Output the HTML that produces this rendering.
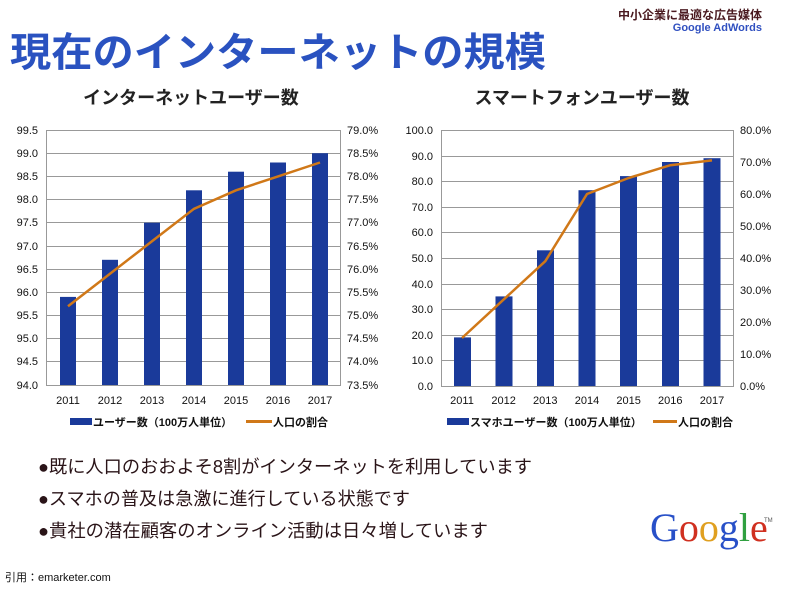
<!DOCTYPE html>
<html><head><meta charset="utf-8"><style>
body{margin:0;background:#fff;width:800px;height:590px;overflow:hidden}
svg{display:block}
</style></head><body>
<svg width="800" height="590" xmlns="http://www.w3.org/2000/svg" font-family="'Liberation Sans','Noto Sans CJK JP',sans-serif">
<text x="762" y="19" text-anchor="end" font-size="12" font-weight="bold" fill="#4a1a20">中小企業に最適な広告媒体</text>
<text x="762" y="31" text-anchor="end" font-size="11" font-weight="bold" fill="#3050c0">Google AdWords</text>
<text x="10" y="66" font-size="40" font-weight="bold" fill="#2a52c0" textLength="536" lengthAdjust="spacingAndGlyphs">現在のインターネットの規模</text>
<text x="191" y="104" text-anchor="middle" font-size="18" font-weight="bold" fill="#222">インターネットユーザー数</text>
<text x="582" y="104" text-anchor="middle" font-size="18" font-weight="bold" fill="#222">スマートフォンユーザー数</text>

<!-- Left chart -->
<g stroke="#999" stroke-width="1">
<line x1="47" y1="130.5" x2="341" y2="130.5"/><line x1="47" y1="153.5" x2="341" y2="153.5"/><line x1="47" y1="176.5" x2="341" y2="176.5"/><line x1="47" y1="199.5" x2="341" y2="199.5"/><line x1="47" y1="222.5" x2="341" y2="222.5"/><line x1="47" y1="246.5" x2="341" y2="246.5"/><line x1="47" y1="269.5" x2="341" y2="269.5"/><line x1="47" y1="292.5" x2="341" y2="292.5"/><line x1="47" y1="315.5" x2="341" y2="315.5"/><line x1="47" y1="338.5" x2="341" y2="338.5"/><line x1="47" y1="361.5" x2="341" y2="361.5"/>
<line x1="46.5" y1="130" x2="46.5" y2="385"/><line x1="340.5" y1="130" x2="340.5" y2="385"/><line x1="46" y1="385.5" x2="341" y2="385.5"/>
</g>
<g fill="#1a3a9a">
<rect x="60" y="296.9" width="16" height="88.1"/><rect x="102" y="259.8" width="16" height="125.2"/><rect x="144" y="222.7" width="16" height="162.3"/><rect x="186" y="190.3" width="16" height="194.7"/><rect x="228" y="171.7" width="16" height="213.3"/><rect x="270" y="162.5" width="16" height="222.5"/><rect x="312" y="153.2" width="16" height="231.8"/>
</g>
<polyline points="68,306.2 110,273.7 152,241.3 194,208.8 236,190.3 278,176.4 320,162.5" fill="none" stroke="#d07818" stroke-width="2.5"/>
<g font-size="11" fill="#111" text-anchor="end">
<text x="38" y="134">99.5</text><text x="38" y="157">99.0</text><text x="38" y="180">98.5</text><text x="38" y="203">98.0</text><text x="38" y="226">97.5</text><text x="38" y="250">97.0</text><text x="38" y="273">96.5</text><text x="38" y="296">96.0</text><text x="38" y="319">95.5</text><text x="38" y="342">95.0</text><text x="38" y="365">94.5</text><text x="38" y="389">94.0</text>
</g>
<g font-size="11" fill="#111">
<text x="347" y="134">79.0%</text><text x="347" y="157">78.5%</text><text x="347" y="180">78.0%</text><text x="347" y="203">77.5%</text><text x="347" y="226">77.0%</text><text x="347" y="250">76.5%</text><text x="347" y="273">76.0%</text><text x="347" y="296">75.5%</text><text x="347" y="319">75.0%</text><text x="347" y="342">74.5%</text><text x="347" y="365">74.0%</text><text x="347" y="389">73.5%</text>
</g>
<g font-size="11" fill="#111" text-anchor="middle">
<text x="68" y="404">2011</text><text x="110" y="404">2012</text><text x="152" y="404">2013</text><text x="194" y="404">2014</text><text x="236" y="404">2015</text><text x="278" y="404">2016</text><text x="320" y="404">2017</text>
</g>
<rect x="70" y="418" width="22" height="7" fill="#1a3a9a"/>
<text x="93" y="426" font-size="11" font-weight="bold" fill="#111">ユーザー数（100万人単位）</text>
<line x1="246" y1="421.5" x2="272" y2="421.5" stroke="#d07818" stroke-width="3"/>
<text x="273" y="426" font-size="11" font-weight="bold" fill="#111">人口の割合</text>

<!-- Right chart -->
<g stroke="#999" stroke-width="1">
<line x1="441" y1="130.5" x2="733" y2="130.5"/><line x1="441" y1="156.5" x2="733" y2="156.5"/><line x1="441" y1="181.5" x2="733" y2="181.5"/><line x1="441" y1="207.5" x2="733" y2="207.5"/><line x1="441" y1="232.5" x2="733" y2="232.5"/><line x1="441" y1="258.5" x2="733" y2="258.5"/><line x1="441" y1="284.5" x2="733" y2="284.5"/><line x1="441" y1="309.5" x2="733" y2="309.5"/><line x1="441" y1="335.5" x2="733" y2="335.5"/><line x1="441" y1="360.5" x2="733" y2="360.5"/>
<line x1="441.5" y1="130" x2="441.5" y2="386"/><line x1="733.5" y1="130" x2="733.5" y2="386"/><line x1="441" y1="386.5" x2="734" y2="386.5"/>
</g>
<g fill="#1a3a9a">
<rect x="454" y="337.4" width="17" height="48.6"/><rect x="495.5" y="296.4" width="17" height="89.6"/><rect x="537" y="250.3" width="17" height="135.7"/><rect x="578.5" y="190.2" width="17" height="195.8"/><rect x="620" y="176.1" width="17" height="209.9"/><rect x="662" y="162" width="17" height="224"/><rect x="703.5" y="158.2" width="17" height="227.8"/>
</g>
<polyline points="462,338 503.6,299.6 545.3,261.2 587,194 628.6,178 670.3,165.2 712,160.4" fill="none" stroke="#d07818" stroke-width="2.5"/>
<g font-size="11" fill="#111" text-anchor="end">
<text x="433" y="134">100.0</text><text x="433" y="160">90.0</text><text x="433" y="185">80.0</text><text x="433" y="211">70.0</text><text x="433" y="236">60.0</text><text x="433" y="262">50.0</text><text x="433" y="288">40.0</text><text x="433" y="313">30.0</text><text x="433" y="339">20.0</text><text x="433" y="364">10.0</text><text x="433" y="390">0.0</text>
</g>
<g font-size="11" fill="#111">
<text x="740" y="134">80.0%</text><text x="740" y="166">70.0%</text><text x="740" y="198">60.0%</text><text x="740" y="230">50.0%</text><text x="740" y="262">40.0%</text><text x="740" y="294">30.0%</text><text x="740" y="326">20.0%</text><text x="740" y="358">10.0%</text><text x="740" y="390">0.0%</text>
</g>
<g font-size="11" fill="#111" text-anchor="middle">
<text x="462" y="404">2011</text><text x="503.6" y="404">2012</text><text x="545.3" y="404">2013</text><text x="587" y="404">2014</text><text x="628.6" y="404">2015</text><text x="670.3" y="404">2016</text><text x="712" y="404">2017</text>
</g>
<rect x="447" y="418" width="22" height="7" fill="#1a3a9a"/>
<text x="470" y="426" font-size="11" font-weight="bold" fill="#111">スマホユーザー数（100万人単位）</text>
<line x1="653" y1="421.5" x2="677" y2="421.5" stroke="#d07818" stroke-width="3"/>
<text x="678" y="426" font-size="11" font-weight="bold" fill="#111">人口の割合</text>

<!-- bullets -->
<g font-size="18" fill="#2a1418">
<text x="38" y="473" textLength="494" lengthAdjust="spacingAndGlyphs">●既に人口のおおよそ8割がインターネットを利用しています</text>
<text x="38" y="505" textLength="372" lengthAdjust="spacingAndGlyphs">●スマホの普及は急激に進行している状態です</text>
<text x="38" y="537" textLength="450" lengthAdjust="spacingAndGlyphs">●貴社の潜在顧客のオンライン活動は日々増しています</text>
</g>
<text x="650" y="541" font-family="'Liberation Serif',serif" font-size="40"><tspan fill="#2850c8">G</tspan><tspan fill="#d03020">o</tspan><tspan fill="#e0a020">o</tspan><tspan fill="#2850c8">g</tspan><tspan fill="#30a040">l</tspan><tspan fill="#d03020">e</tspan></text>
<text x="764" y="522" font-size="6" fill="#555">TM</text>
<text x="5" y="581" font-size="11" fill="#111">引用：emarketer.com</text>
</svg>
</body></html>
